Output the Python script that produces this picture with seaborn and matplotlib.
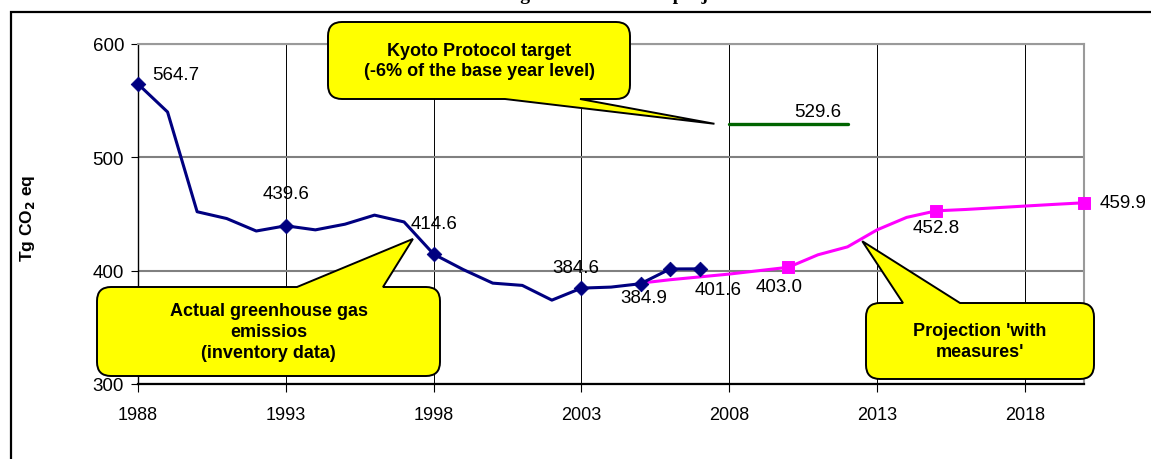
import pandas as pd
import seaborn as sns
import matplotlib.pyplot as plt
from matplotlib.path import Path
from matplotlib.patches import PathPatch, Rectangle
from matplotlib.transforms import IdentityTransform

# inventory data (Tg CO2 eq)
actual_years = list(range(1988, 2008))
actual_values = [564.7, 540.0, 452.0, 446.0, 435.0, 439.6, 436.0, 441.0, 449.0, 443.0,
                 414.6, 401.0, 389.0, 387.0, 374.0, 384.6, 385.5, 388.5, 401.5, 401.6]
actual_marked = [1988, 1993, 1998, 2003, 2005, 2006, 2007]

# projection 'with measures'
proj_years = list(range(2005, 2021))
proj_values = [389.0, 392.0, 394.5, 397.0, 400.0, 403.0, 414.0, 421.0, 436.0, 447.0,
               452.8, 454.0, 455.5, 457.0, 458.5, 459.9]
proj_marked = [2010, 2015, 2020]

# Kyoto target
kyoto_years = [2008, 2009, 2010, 2011, 2012]
kyoto_values = [529.6, 529.6, 529.6, 529.6, 529.6]

# data labels: year, text
actual_label_years = [1988, 1993, 1998, 2003, 2005, 2007]
actual_label_texts = ["564.7", "439.6", "414.6", "384.6", "384.9", "401.6"]
proj_label_years = [2010, 2015, 2020]
proj_label_texts = ["403.0", "452.8", "459.9"]
kyoto_label_year = 2011
kyoto_label_text = "529.6"

x_ticks = [1988, 1993, 1998, 2003, 2008, 2013, 2018]
y_ticks = [300, 400, 500, 600]

title = "Greenhouse gas emissions and projections"
y_label = r"Tg CO$_\mathbf{2}$ eq"
kyoto_note = "Kyoto Protocol target\n(-6% of the base year level)"
actual_note = "Actual greenhouse gas\nemissios\n(inventory data)"
proj_note = "Projection 'with\nmeasures'"

sns.set_theme(style="white")
plt.rcParams["font.family"] = ["Liberation Sans", "DejaVu Sans"]
plt.rcParams.update({"text.color": "black", "axes.labelcolor": "black",
                     "xtick.color": "black", "ytick.color": "black"})

W, H = 1151, 460
fig = plt.figure(figsize=(W / 100, H / 100), dpi=100)
ax = fig.add_axes([138 / W, 1 - 385 / H, (1084 - 138) / W, (385 - 45) / H])

NAVY = "#000080"
MAGENTA = "#FF00FF"
GREEN = "#006400"

actual = pd.DataFrame({"year": actual_years, "value": actual_values})
proj = pd.DataFrame({"year": proj_years, "value": proj_values})
kyoto = pd.DataFrame({"year": kyoto_years, "value": kyoto_values})

sns.lineplot(data=kyoto, x="year", y="value", color=GREEN, lw=2.4, ax=ax)
sns.lineplot(data=proj, x="year", y="value", color=MAGENTA, lw=2.2, ax=ax)
sns.lineplot(data=actual, x="year", y="value", color=NAVY, lw=2.2, ax=ax)

pm = proj[proj["year"].isin(proj_marked)]
sns.scatterplot(data=pm, x="year", y="value", marker="s", s=72, color=MAGENTA,
                edgecolor=MAGENTA, ax=ax, zorder=4, clip_on=False)
am = actual[actual["year"].isin(actual_marked)]
sns.scatterplot(data=am, x="year", y="value", marker="D", s=55, color=NAVY,
                edgecolor=NAVY, ax=ax, zorder=5, clip_on=False)

# data labels
a_off = [(10, 6.5, "left"), (0, 23, "center"), (0, 22, "center"), (-4, 15, "center"),
         (2, -10, "center"), (13, -15, "center")]
for yr, txt, (dx, dy, ha) in zip(actual_label_years, actual_label_texts, a_off):
    v = actual_values[actual_years.index(yr)]
    ax.annotate(txt, (yr, v), xytext=(dx, dy), textcoords="offset points",
                ha=ha, va="center", fontsize=13.5)
p_off = [(-7, -13.5, "center"), (0, -12, "center"), (11.5, 0, "left")]
for yr, txt, (dx, dy, ha) in zip(proj_label_years, proj_label_texts, p_off):
    v = proj_values[proj_years.index(yr)]
    ax.annotate(txt, (yr, v), xytext=(dx, dy), textcoords="offset points",
                ha=ha, va="center", fontsize=13.5, annotation_clip=False)
ax.annotate(kyoto_label_text, (kyoto_label_year, kyoto_values[kyoto_years.index(kyoto_label_year)]),
            xytext=(0, 9), textcoords="offset points", ha="center", va="center", fontsize=13.5)

ax.set_xlim(1988, 2020)
ax.set_ylim(300, 600)
ax.set_xticks(x_ticks)
ax.set_yticks(y_ticks)
ax.set_xlabel("")
ax.set_ylabel(y_label, fontsize=12.5, fontweight="bold")
ax.yaxis.set_label_coords((37 - 138) / 946, (385 - 218) / 340)

ax.xaxis.grid(True, color="black", lw=0.7)
ax.yaxis.grid(True, color="#808080", lw=1.5)
ax.set_axisbelow(True)
for s in ["top", "right"]:
    ax.spines[s].set_color("#9a9a9a")
    ax.spines[s].set_linewidth(1.5)
ax.spines["left"].set_color("black")
ax.spines["left"].set_linewidth(1.0)
ax.spines["bottom"].set_color("black")
ax.spines["bottom"].set_linewidth(1.6)
ax.tick_params(axis="x", direction="out", length=6, width=0.8, color="black",
               pad=10, labelsize=13, bottom=True)
ax.tick_params(axis="y", direction="out", length=5, width=0.8, color="black",
               pad=5, labelsize=13.5, left=True)


def callout(box, side, base, tip, text):
    x0, y0, x1, y1 = box
    r = 14
    tx, ty = ax.transData.transform(tip)
    ty = H - ty
    L, C = Path.LINETO, Path.CURVE3
    verts = [(x0 + r, y0)]
    codes = [Path.MOVETO]
    if side == "top":
        verts += [(base[0], y0), (tx, ty), (base[1], y0)]
        codes += [L, L, L]
    verts += [(x1 - r, y0), (x1, y0), (x1, y0 + r), (x1, y1 - r), (x1, y1), (x1 - r, y1)]
    codes += [L, C, C, L, C, C]
    if side == "bottom":
        verts += [(base[1], y1), (tx, ty), (base[0], y1)]
        codes += [L, L, L]
    verts += [(x0 + r, y1), (x0, y1), (x0, y1 - r), (x0, y0 + r), (x0, y0), (x0 + r, y0),
              (x0 + r, y0)]
    codes += [L, C, C, L, C, C, Path.CLOSEPOLY]
    disp = [(vx, H - vy) for vx, vy in verts]
    fig.add_artist(PathPatch(Path(disp, codes), fc="#FFFF00", ec="black", lw=1.4,
                             transform=IdentityTransform(), zorder=5))
    fig.text((x0 + x1) / 2 / W, 1 - (y0 + y1) / 2 / H, text, ha="center", va="center",
             fontsize=13, fontweight="bold", linespacing=1.3, zorder=6)


callout((328, 23, 630, 100), "bottom", (505, 580), (2007.5, 529.6), kyoto_note)
callout((97, 288, 440, 377), "top", (297, 383), (1997.3, 428), actual_note)
callout((866, 304, 1094, 380), "top", (903, 960), (2012.5, 426), proj_note)

# title (cut at the top edge, as in the source) and outer frame
fig.text(0.513, 1.0, title, ha="center", va="baseline", fontsize=14, fontweight="bold",
         family=["Liberation Serif", "DejaVu Serif"])
fig.add_artist(Rectangle((10.5 / W, -0.1), 1.2, 1.1 - 13 / H, transform=fig.transFigure,
                         fill=False, ec="black", lw=1.6))

fig.savefig("out.png", dpi=100)
